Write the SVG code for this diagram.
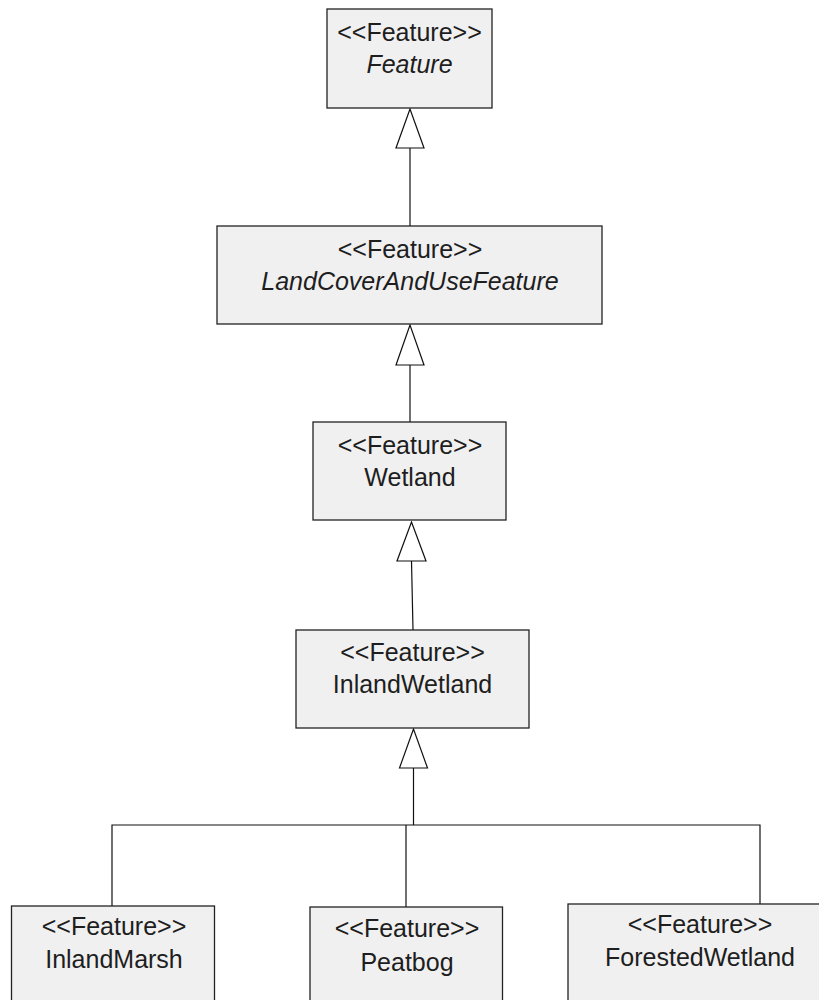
<svg xmlns="http://www.w3.org/2000/svg" width="819" height="1000" viewBox="0 0 819 1000">
  <style>
    .box { fill: #f0f0f0; stroke: #222; stroke-width: 1.3; }
    .t { font-family: "Liberation Sans", Arial, sans-serif; font-size: 25px; fill: #1e1e1e; text-anchor: middle; }
    .i { font-style: italic; }
    .ln { fill: none; stroke: #111; stroke-width: 1.2; }
    .tri { fill: #ffffff; stroke: #111; stroke-width: 1.2; }
  </style>
  <rect width="819" height="1000" fill="#ffffff"/>
  <g id="connectors">
    <line class="ln" x1="410" y1="148" x2="410" y2="226"/>
    <polygon class="tri" points="410,109 396,148 424,148"/>
    <line class="ln" x1="410" y1="365" x2="410" y2="422"/>
    <polygon class="tri" points="410,325 396,365 424,365"/>
    <line class="ln" x1="411.5" y1="561" x2="413" y2="630"/>
    <polygon class="tri" points="411.5,522 397,561 426,561"/>
    <line class="ln" x1="413.5" y1="768" x2="413.5" y2="825"/>
    <polygon class="tri" points="413.5,729 399.5,768 427.5,768"/>
    <polyline class="ln" points="112,906 112,825 760,825 760,904"/>
    <line class="ln" x1="406" y1="825" x2="406" y2="907"/>
  </g>
  <g id="feature">
    <rect class="box" x="327" y="9" width="165" height="99"/>
    <text class="t" x="409.5" y="41">&lt;&lt;Feature&gt;&gt;</text>
    <text class="t i" x="409.5" y="73">Feature</text>
  </g>
  <g id="landcover">
    <rect class="box" x="217" y="226" width="385" height="98"/>
    <text class="t" x="410" y="258">&lt;&lt;Feature&gt;&gt;</text>
    <text class="t i" x="410" y="290">LandCoverAndUseFeature</text>
  </g>
  <g id="wetland">
    <rect class="box" x="313" y="422" width="193" height="98"/>
    <text class="t" x="410" y="454">&lt;&lt;Feature&gt;&gt;</text>
    <text class="t" x="410" y="486">Wetland</text>
  </g>
  <g id="inlandwetland">
    <rect class="box" x="296" y="630" width="233" height="98"/>
    <text class="t" x="412.5" y="661">&lt;&lt;Feature&gt;&gt;</text>
    <text class="t" x="412.5" y="693">InlandWetland</text>
  </g>
  <g id="inlandmarsh">
    <rect class="box" x="11.5" y="906" width="203" height="110"/>
    <text class="t" x="114" y="935">&lt;&lt;Feature&gt;&gt;</text>
    <text class="t" x="114" y="968">InlandMarsh</text>
  </g>
  <g id="peatbog">
    <rect class="box" x="310" y="907" width="192.5" height="110"/>
    <text class="t" x="407" y="937">&lt;&lt;Feature&gt;&gt;</text>
    <text class="t" x="407" y="971">Peatbog</text>
  </g>
  <g id="forestedwetland">
    <rect class="box" x="568" y="904" width="270" height="110"/>
    <text class="t" x="700" y="933">&lt;&lt;Feature&gt;&gt;</text>
    <text class="t" x="700" y="966">ForestedWetland</text>
  </g>
</svg>
